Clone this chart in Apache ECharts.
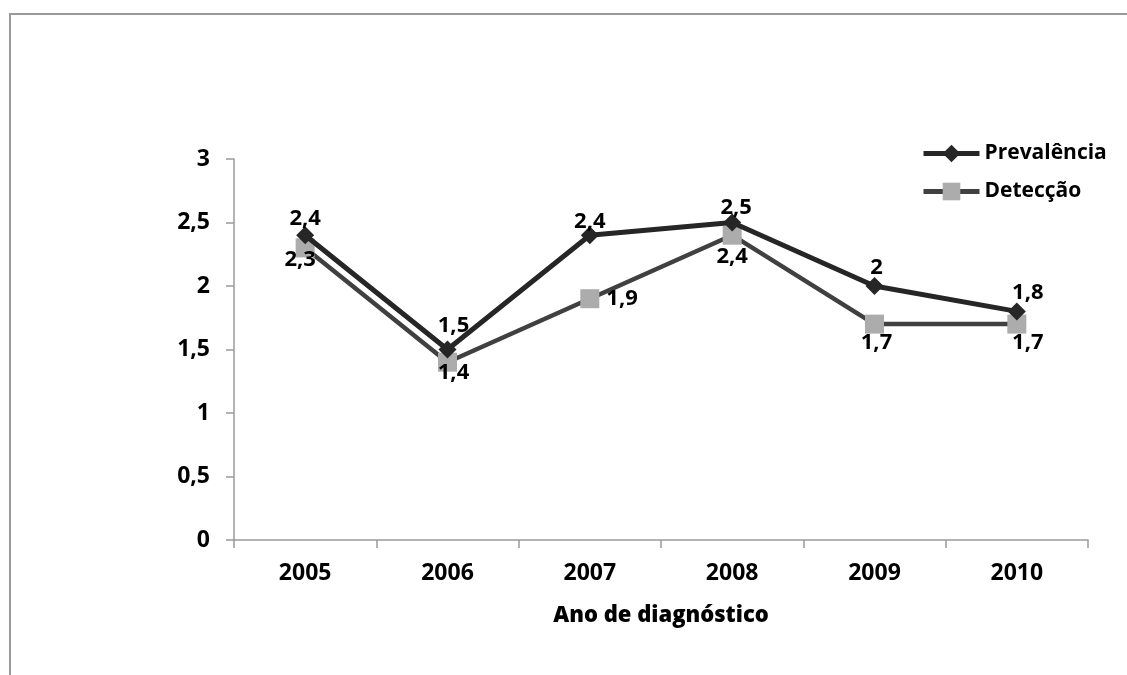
<!DOCTYPE html>
<html>
<head>
<meta charset="utf-8">
<script src="https://cdn.jsdelivr.net/npm/echarts@6/dist/echarts.min.js"></script>
<style>
  html, body { margin: 0; padding: 0; background: #fff; }
  #chart { width: 1127px; height: 675px; }
</style>
</head>
<body>
<div id="chart"></div>
<script>
// Anos de diagnóstico e taxas por ano
const years = ['2005', '2006', '2007', '2008', '2009', '2010'];
const prevalencia = [2.4, 1.5, 2.4, 2.5, 2, 1.8];
const deteccao = [2.3, 1.4, 1.9, 2.4, 1.7, 1.7];
const yTicks = { min: 0, max: 3, interval: 0.5 };

// Ajustes finos da posição dos rótulos de valor (dx, dy em px)
const prevLabelNudge = [[0, 4], [6, -4], [0, 7], [4, 5], [2, 2], [11, 1]];
const detLabelNudge = [[-5, -9], [6, -10], null, [0, 1], [2, -2], [11, -2]];

const fontFamily = '"Open Sans", "Liberation Sans", sans-serif';
const fmt = v => String(v).replace('.', ',');

const chart = echarts.init(document.getElementById('chart'), null, { renderer: 'canvas' });

const prevData = prevalencia.map((v, i) => ({
  value: v,
  label: { offset: prevLabelNudge[i] }
}));
const detData = deteccao.map((v, i) => (
  detLabelNudge[i]
    ? { value: v, label: { offset: detLabelNudge[i] } }
    : { value: v, label: { position: 'right', distance: 7 } }
));

const labelStyle = {
  show: true,
  color: '#000',
  fontFamily,
  fontWeight: 'bold',
  fontSize: 22,
  formatter: p => fmt(p.value)
};

chart.setOption({
  animation: false,
  backgroundColor: '#fff',
  graphic: [{
    type: 'rect',
    shape: { x: 10, y: 14, width: 1300, height: 900 },
    style: { fill: 'none', stroke: '#9a9a9a', lineWidth: 2 },
    silent: true
  }],
  grid: { left: 234, right: 39, top: 159, bottom: 135 },
  legend: {
    orient: 'vertical',
    left: 921,
    top: 143,
    padding: 0,
    itemWidth: 56,
    itemHeight: 22,
    itemGap: 17,
    lineStyle: { width: 5 },
    textStyle: { color: '#000', fontFamily, fontWeight: 'bold', fontSize: 21 },
    data: ['Prevalência', 'Detecção']
  },
  xAxis: {
    type: 'category',
    data: years,
    boundaryGap: true,
    axisLine: { lineStyle: { color: '#9a9a9a', width: 1.5 } },
    axisTick: { show: true, length: 8, lineStyle: { color: '#9a9a9a', width: 1.5 } },
    axisLabel: { color: '#000', fontFamily, fontWeight: 'bold', fontSize: 23, margin: 22 },
    name: 'Ano de diagnóstico',
    nameLocation: 'middle',
    nameGap: 65,
    nameTextStyle: { color: '#000', fontFamily, fontWeight: 800, fontSize: 22 }
  },
  yAxis: {
    type: 'value',
    min: yTicks.min,
    max: yTicks.max,
    interval: yTicks.interval,
    splitLine: { show: false },
    axisLine: { show: true, lineStyle: { color: '#9a9a9a', width: 1.5 } },
    axisTick: { show: true, length: 8, lineStyle: { color: '#9a9a9a', width: 1.5 } },
    axisLabel: { color: '#000', fontFamily, fontWeight: 'bold', fontSize: 23, margin: 24, formatter: fmt }
  },
  series: [
    {
      name: 'Prevalência',
      type: 'line',
      data: prevData,
      symbol: 'diamond',
      symbolSize: 18,
      lineStyle: { color: '#262626', width: 5 },
      itemStyle: { color: '#262626' },
      label: Object.assign({}, labelStyle, { position: 'top', distance: 0 }),
      z: 3
    },
    {
      name: 'Detecção',
      type: 'line',
      data: detData,
      symbol: 'rect',
      symbolSize: 19,
      lineStyle: { color: '#404040', width: 4.5 },
      itemStyle: { color: '#acacac' },
      label: Object.assign({}, labelStyle, { position: 'bottom', distance: 0 }),
      z: 2
    }
  ]
});
</script>
</body>
</html>
